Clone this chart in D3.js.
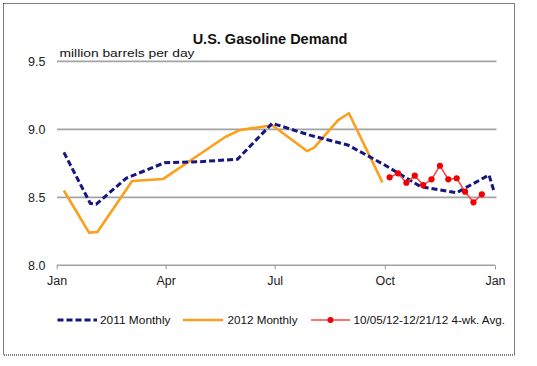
<!DOCTYPE html>
<html>
<head>
<meta charset="utf-8">
<script src="https://cdn.jsdelivr.net/npm/d3@7"></script>
<style>
  html, body { margin: 0; padding: 0; background: #fff; }
  svg { display: block; font-family: "Liberation Sans", Arial, sans-serif; }
</style>
</head>
<body>
<svg id="chart" width="537" height="366"></svg>
<script>
// ---- data ----
const title = "U.S. Gasoline Demand";
const unitLabel = "million barrels per day";

const dates2011 = ["2012-01-07","2012-01-29","2012-02-03","2012-02-28","2012-03-31","2012-04-30","2012-05-31","2012-06-29","2012-07-31","2012-08-31","2012-09-30","2012-10-31","2012-11-30","2012-12-27","2012-12-31"];
const values2011 = [8.83, 8.456, 8.449, 8.64, 8.754, 8.762, 8.78, 9.044, 8.955, 8.885, 8.742, 8.578, 8.534, 8.664, 8.55];

const dates2012 = ["2012-01-07","2012-01-28","2012-02-04","2012-03-04","2012-03-30","2012-04-30","2012-05-21","2012-06-02","2012-06-29","2012-07-28","2012-08-03","2012-08-23","2012-09-01","2012-09-29"];
const values2012 = [8.55, 8.24, 8.245, 8.62, 8.635, 8.82, 8.945, 8.994, 9.03, 8.84, 8.865, 9.068, 9.118, 8.61];

const weeklyDates = ["2012-10-05","2012-10-12","2012-10-19","2012-10-26","2012-11-02","2012-11-09","2012-11-16","2012-11-23","2012-11-30","2012-12-07","2012-12-14","2012-12-21"];
const weeklyValues = [8.647, 8.676, 8.607, 8.659, 8.59, 8.632, 8.732, 8.632, 8.64, 8.541, 8.463, 8.522];

const yTicks = [8.0, 8.5, 9.0, 9.5];
const xTickDates = ["2012-01-01","2012-04-01","2012-07-01","2012-10-01","2013-01-01"];
const xTickLabels = ["Jan","Apr","Jul","Oct","Jan"];

const seriesNames = ["2011 Monthly", "2012 Monthly", "10/05/12-12/21/12 4-wk. Avg."];

// ---- drawing ----
const parse = d3.utcParse("%Y-%m-%d");
const svg = d3.select("#chart");

const x = d3.scaleUtc()
  .domain([parse("2012-01-01"), parse("2013-01-01")])
  .range([56.7, 495]);
const y = d3.scaleLinear().domain([8.0, 9.5]).range([265.3, 61.3]);

// outer dotted frame
svg.append("rect")
  .attr("x", 3.5).attr("y", 3.5).attr("width", 511).attr("height", 351.5)
  .attr("fill", "none").attr("stroke", "#000").attr("stroke-width", 1)
  .attr("stroke-dasharray", "1,1");

// title
svg.append("text")
  .attr("x", 270).attr("y", 44)
  .attr("text-anchor", "middle")
  .attr("font-size", 14.5).attr("font-weight", "bold")
  .attr("fill", "#111")
  .text(title);

// gridlines (not at 8.0 which is the axis)
svg.append("g").selectAll("line")
  .data(yTicks.filter(d => d > 8.0))
  .join("line")
  .attr("x1", 57).attr("x2", 496.5)
  .attr("y1", d => y(d)).attr("y2", d => y(d))
  .attr("stroke", "#a3a3a3").attr("stroke-width", 1.8);

// y tick labels
svg.append("g").selectAll("text")
  .data(yTicks)
  .join("text")
  .attr("x", 45.5).attr("y", d => y(d) + 4.5)
  .attr("text-anchor", "end")
  .attr("font-size", 12.5).attr("fill", "#222")
  .text(d => d.toFixed(1));

// unit label
svg.append("text")
  .attr("x", 59.5).attr("y", 56.5)
  .attr("font-size", 11.5).attr("fill", "#111")
  .attr("textLength", 135).attr("lengthAdjust", "spacingAndGlyphs")
  .text(unitLabel);

// x axis
const xAxis = d3.axisBottom(x)
  .tickValues(xTickDates.map(parse))
  .tickFormat((d, i) => xTickLabels[i])
  .tickSize(4).tickPadding(7);
const gx = svg.append("g").attr("transform", `translate(0,${y(8.0)})`).call(xAxis);
gx.select(".domain").attr("stroke", "#a69ea8").attr("stroke-width", 1.5)
  .attr("d", `M${x.range()[0]},0H${x.range()[1]}`);
gx.selectAll(".tick line").attr("stroke", "#999");
gx.selectAll(".tick text").attr("font-size", 12.5).attr("fill", "#222")
  .attr("font-family", "Liberation Sans, Arial, sans-serif");

// lines
const line = d3.line().x(d => x(d[0])).y(d => y(d[1]));

const data2011 = dates2011.map((d, i) => [parse(d), values2011[i]]);
const data2012 = dates2012.map((d, i) => [parse(d), values2012[i]]);
const dataWeekly = weeklyDates.map((d, i) => [parse(d), weeklyValues[i]]);

svg.append("path").datum(data2012)
  .attr("d", line).attr("fill", "none")
  .attr("stroke", "#fb9f1c").attr("stroke-width", 2.6)
  .attr("stroke-linejoin", "round");

svg.append("path").datum(data2011)
  .attr("d", line).attr("fill", "none")
  .attr("stroke", "#16167e").attr("stroke-width", 3)
  .attr("stroke-dasharray", "6,3");

svg.append("path").datum(dataWeekly)
  .attr("d", line).attr("fill", "none")
  .attr("stroke", "#f44a4a").attr("stroke-width", 1.6);

svg.append("g").selectAll("circle")
  .data(dataWeekly).join("circle")
  .attr("cx", d => x(d[0])).attr("cy", d => y(d[1]))
  .attr("r", 3.1).attr("fill", "#f00000");

// legend
const ly = 320;
const lg = svg.append("g");
lg.append("line").attr("x1", 57.5).attr("x2", 97).attr("y1", ly).attr("y2", ly)
  .attr("stroke", "#16167e").attr("stroke-width", 3).attr("stroke-dasharray", "6,3");
lg.append("line").attr("x1", 183).attr("x2", 223).attr("y1", ly).attr("y2", ly)
  .attr("stroke", "#fb9f1c").attr("stroke-width", 2.6);
lg.append("line").attr("x1", 311).attr("x2", 350).attr("y1", ly).attr("y2", ly)
  .attr("stroke", "#f44a4a").attr("stroke-width", 1.6);
lg.append("circle").attr("cx", 330.5).attr("cy", ly).attr("r", 3).attr("fill", "#f00000");

const legendText = [
  {x: 100, w: 70.5},
  {x: 227.5, w: 70},
  {x: 353.5, w: 151.5}
];
lg.selectAll("text").data(seriesNames).join("text")
  .attr("x", (d, i) => legendText[i].x).attr("y", ly + 4)
  .attr("font-size", 11).attr("fill", "#111")
  .attr("textLength", (d, i) => legendText[i].w)
  .attr("lengthAdjust", "spacingAndGlyphs")
  .text(d => d);
</script>
</body>
</html>
